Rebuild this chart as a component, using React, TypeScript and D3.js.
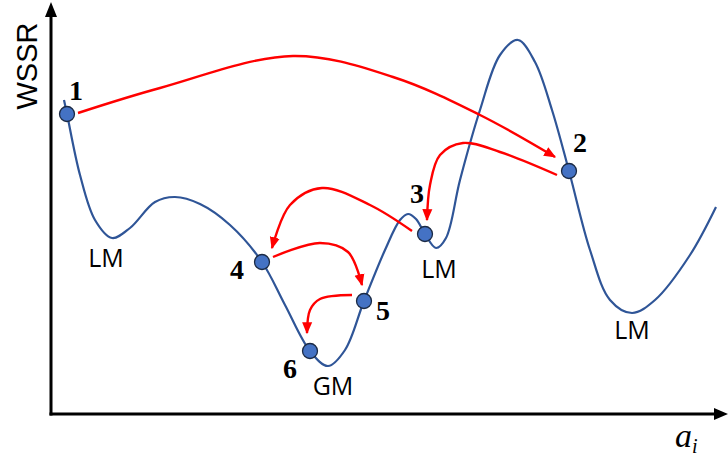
import React from "react";
import * as d3 from "d3";

// Objective landscape: WSSR as a function of parameter a_i
const curveA = [14, 17, 30, 45, 62, 80, 105, 125, 150, 180, 212, 235, 260, 278, 295, 314, 335, 350, 358, 366, 375, 386, 396, 410, 430, 450, 468, 485, 502, 519, 540, 560, 582, 605, 640, 666];
const curveWSSR = [314, 300, 239, 194, 176, 186, 212, 217, 210, 189, 152, 109, 63, 48, 64, 113, 164, 194, 200, 195, 180, 166, 176, 234, 304, 359, 374, 352, 304, 243, 164, 114, 101, 114, 159, 207];

// Visited search points, in order
const stepLabels = ["1", "2", "3", "4", "5", "6"];
const stepA = [17, 519, 375, 212, 314, 260];
const stepWSSR = [300, 243, 180, 152, 113, 63];
const stepLabelDx = [9, 11, -8, -25, 19, -20];
const stepLabelDy = [-24, -29, -41, 7, 9, 17];

// Minimum annotations
const minLabels = ["LM", "GM", "LM", "LM"];
const minA = [56, 283, 389, 582];
const minWSSR = [156, 28, 145, 84];

// Jumps between consecutive steps (path through waypoints)
const jumps: [number, number][][] = [
  [[28, 301], [110, 326], [243, 358], [343, 337], [430, 299], [505, 257]],
  [[507, 239], [450, 262], [413, 271], [390, 259], [380, 229], [377, 194]],
  [[362, 183], [320, 209], [272, 226], [240, 209], [222, 166]],
  [[223, 157], [270, 171], [298, 162], [312, 129]],
  [[302, 119], [270, 115], [260, 104], [257, 81]],
];

const W = 728;
const H = 456;

export default function App() {
  const x = d3.scaleLinear().domain([0, 678]).range([50, 728]);
  const y = d3.scaleLinear().domain([0, 414]).range([414, 0]);

  const curvePts: [number, number][] = curveA.map((a, i) => [a, curveWSSR[i]]);
  const landscape = d3
    .line<[number, number]>()
    .x((d) => x(d[0]))
    .y((d) => y(d[1]))
    .curve(d3.curveCatmullRom.alpha(0.5))(curvePts);

  const jumpLine = d3
    .line<[number, number]>()
    .x((d) => x(d[0]))
    .y((d) => y(d[1]))
    .curve(d3.curveCatmullRom.alpha(0.5));

  const x0 = x(1);
  const y0 = y(0);

  return (
    <svg
      width={W}
      height={H}
      style={{ position: "absolute", left: 0, top: 0, background: "#fff" }}
    >
      <defs>
        <marker
          id="redHead"
          viewBox="0 0 10 10"
          refX="9"
          refY="5"
          markerWidth="5"
          markerHeight="5"
          orient="auto"
          markerUnits="strokeWidth"
        >
          <path d="M0,0.8 L10,5 L0,9.2 Z" fill="#ff0000" />
        </marker>
      </defs>

      {/* axes */}
      <line x1={x0} y1={y0 + 1.5} x2={x0} y2={16} stroke="#000" strokeWidth={3} />
      <path d={`M${x0 - 6},17 L${x0},2 L${x0 + 6},17 Z`} fill="#000" />
      <line x1={x0 - 1.5} y1={y0} x2={716} y2={y0} stroke="#000" strokeWidth={3} />
      <path d={`M714,${y0 - 6} L728,${y0} L714,${y0 + 6} Z`} fill="#000" />

      <text
        transform={`translate(37,66) rotate(-90)`}
        textAnchor="middle"
        fontFamily="Liberation Sans, Arial, sans-serif"
        fontSize={29}
        fill="#000"
      >
        WSSR
      </text>
      <text
        x={675}
        y={447}
        fontFamily="Liberation Serif, Times New Roman, serif"
        fontStyle="italic"
        fontSize={34}
        fill="#000"
      >
        a
        <tspan fontSize={20} dy={6}>
          i
        </tspan>
      </text>

      {/* landscape */}
      <path d={landscape ?? ""} fill="none" stroke="#2f5597" strokeWidth={2.2} />

      {/* jumps */}
      {jumps.map((pts, i) => (
        <path
          key={`j${i}`}
          d={jumpLine(pts) ?? ""}
          fill="none"
          stroke="#ff0000"
          strokeWidth={2.4}
          markerEnd="url(#redHead)"
        />
      ))}

      {/* visited points */}
      {stepA.map((a, i) => (
        <g key={`p${i}`}>
          <circle cx={x(a)} cy={y(stepWSSR[i])} r={7.5} fill="#4472c4" stroke="#1b2a44" strokeWidth={1.3} />
          <text
            x={x(a) + stepLabelDx[i]}
            y={y(stepWSSR[i]) + stepLabelDy[i] + 9.5}
            textAnchor="middle"
            fontFamily="Liberation Serif, Times New Roman, serif"
            fontWeight="bold"
            fontSize={28}
            fill="#000"
          >
            {stepLabels[i]}
          </text>
        </g>
      ))}

      {/* minimum labels */}
      {minLabels.map((t, i) => (
        <text
          key={`m${i}`}
          x={x(minA[i])}
          y={y(minWSSR[i]) + 9}
          textAnchor="middle"
          fontFamily="Open Sans, Liberation Sans, sans-serif"
          fontSize={25}
          fill="#000"
        >
          {t}
        </text>
      ))}
    </svg>
  );
}
